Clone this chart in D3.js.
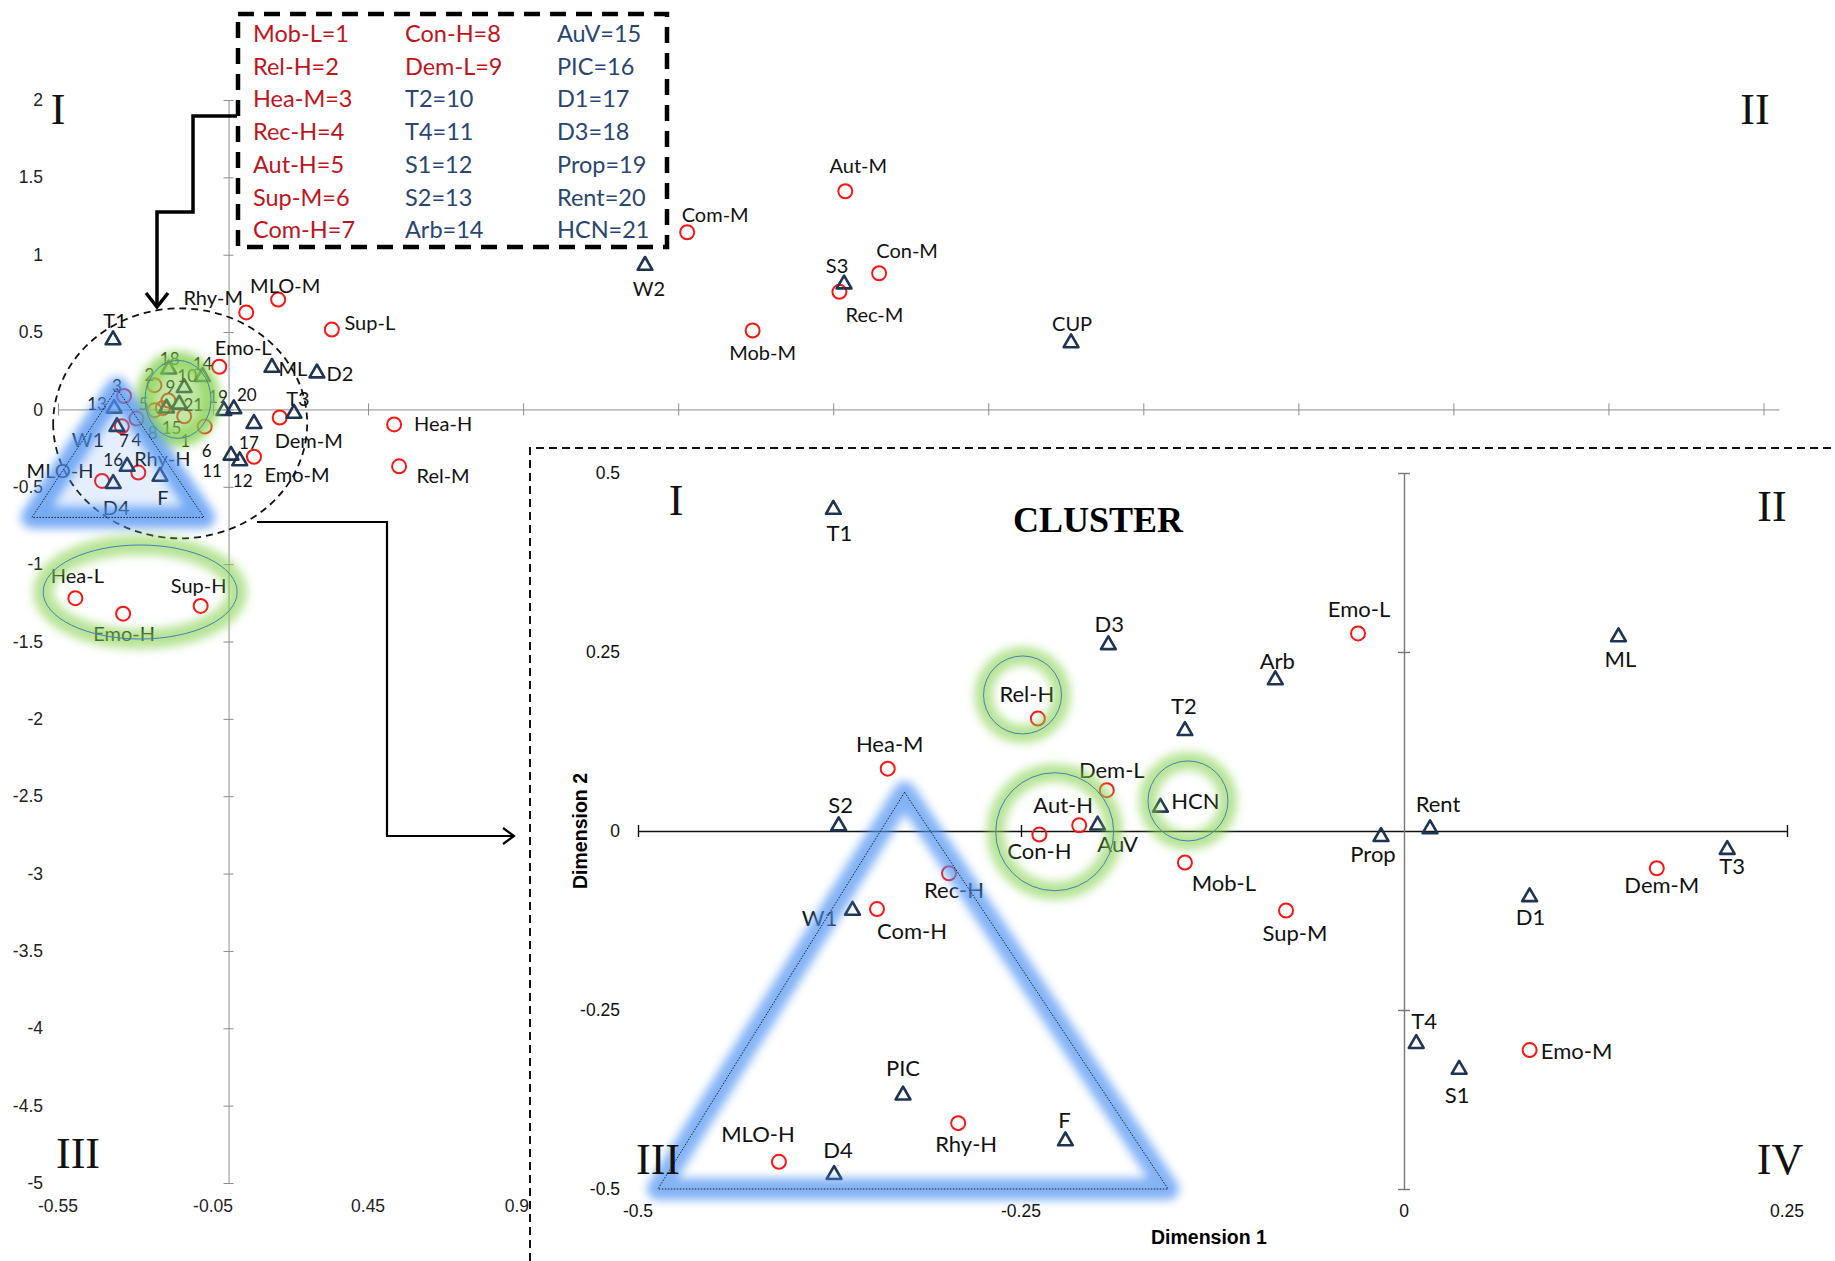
<!DOCTYPE html>
<html>
<head>
<meta charset="utf-8">
<script src="https://cdn.jsdelivr.net/npm/d3@7"></script>
<style>
  body { margin: 0; background: #fff; }
  svg { display: block; }
</style>
</head>
<body>
<svg id="canvas"></svg>
<script>
// ---------------- data ----------------
// circles (red) : dimension 1 / dimension 2
let circleNames = ['Mob-L','Rel-H','Hea-M','Rec-H','Aut-H','Sup-M','Com-H','Con-H','Dem-L','Emo-L','Emo-M','Dem-M',
                   'Rhy-H','MLO-H','Hea-L','Emo-H','Sup-H','Rhy-M','MLO-M','Sup-L','Hea-H','Rel-M','Com-M','Aut-M','Con-M','Rec-M','Mob-M']
let circleX = [-0.143,-0.239,-0.337,-0.297,-0.212,-0.077,-0.344,-0.238,-0.194,-0.030,0.082,0.165,
               -0.291,-0.408,-0.494,-0.340,-0.090,0.057,0.160,0.333,0.534,0.550,1.479,1.989,2.098,1.970,1.690]
let circleY = [-0.044,0.157,0.087,-0.059,0.008,-0.111,-0.109,-0.005,0.057,0.276,-0.306,-0.052,
               -0.408,-0.462,-1.220,-1.320,-1.270,0.627,0.710,0.516,-0.097,-0.368,1.145,1.410,0.880,0.760,0.510]

// triangles (navy)
let triNames = ['T1','T2','T3','T4','S1','S2','S3','W1','W2','D1','D2','D3','D4','F','PIC','AuV','Arb','Prop','Rent','HCN','ML','CUP']
let triX = [-0.3725,-0.143,0.211,0.008,0.036,-0.369,1.985,-0.360,1.343,0.082,0.285,-0.193,-0.372,-0.221,-0.327,-0.200,-0.084,-0.015,0.017,-0.159,0.140,2.717]
let triY = [0.449,0.140,-0.026,-0.297,-0.333,0.007,0.810,-0.111,0.930,-0.092,0.235,0.260,-0.480,-0.433,-0.369,0.008,0.211,-0.008,0.003,0.033,0.271,0.430]

// legend codes: position in list + 1 = number used in the big chart
let legendCodes = ['Mob-L','Rel-H','Hea-M','Rec-H','Aut-H','Sup-M','Com-H','Con-H','Dem-L','T2','T4','S1','S2','Arb',
                   'AuV','PIC','D1','D3','Prop','Rent','HCN']

// tick labels
let mainYTicks = [2,1.5,1,0.5,0,-0.5,-1,-1.5,-2,-2.5,-3,-3.5,-4,-4.5,-5]
let mainXTicks = [-0.55,-0.05,0.45,0.95,1.45,1.95,2.45,2.95,3.45,3.95,4.45,4.95]
let mainXLabelVals = [-0.55,-0.05,0.45,0.93]
let mainXLabels = ['-0.55','-0.05','0.45','0.9']
let insetXTicks = [-0.5,-0.25,0,0.25]
let insetYTicks = [0.5,0.25,0,-0.25,-0.5]

// ---------------- label placement (px offsets) ----------------
let mainOff = {
  'Aut-M':[13,-26],'Com-M':[28,-18],'Con-M':[28,-23],'S3':[-7,-19],'Rec-M':[35,22],'Mob-M':[10,21],'W2':[4,22],'CUP':[1,-20],
  'MLO-M':[7,-15],'Rhy-M':[-33,-15],'Sup-L':[38,-8],'Emo-L':[24,-20],'ML':[21,0],'D2':[23,0],'T3':[4,-15],'Dem-M':[29,23],
  'Hea-H':[49,-1],'Rel-M':[44,9],'Emo-M':[43,17],'D1':[-5,19],'T4':[-19,15],'S1':[3,20],'Prop':[-6,-14],'Rent':[13,-14],
  'Sup-M':[2,24],'Hea-L':[2,-23],'Emo-H':[1,19],'Sup-H':[-2,-21],'T1':[2,-20],'Hea-M':[-7,-10],'S2':[-17,-5],'W1':[-29,12],
  'Com-H':[2,14],'Rec-H':[0,21],'Rhy-H':[24,-15],'PIC':[-14,-7],'MLO-H':[-42,-11],'D4':[3,23],'F':[3,21],'Rel-H':[-5,-11],
  'Aut-H':[-19,-5],'Con-H':[-2,22],'AuV':[5,19],'D3':[1,-11],'T2':[3,-12],'Arb':[0,-13],'Dem-L':[2,-14],'HCN':[14,0],'Mob-L':[1,24]
}
let insetOff = {
  'T1':[6,23],'D3':[1,-21],'Emo-L':[1,-25],'ML':[2,22],'Arb':[2,-19],'Rel-H':[-11,-25],'T2':[-1,-25],'Hea-M':[2,-25],
  'Dem-L':[5,-21],'HCN':[35,-7],'Aut-H':[-16,-21],'AuV':[20,18],'Con-H':[0,16],'S2':[2,-21],'Prop':[-8,17],'Rent':[8,-25],
  'Mob-L':[39,20],'Rec-H':[5,16],'T3':[5,16],'Dem-M':[5,16],'D1':[1,20],'W1':[-33,7],'Com-H':[35,21],'Sup-M':[9,22],
  'T4':[8,-23],'Emo-M':[47,0],'S1':[-2,25],'PIC':[0,-28],'Rhy-H':[8,20],'F':[-1,-22],'MLO-H':[-21,-28],'D4':[4,-25]
}

// ---------------- setup ----------------
let width = 1835
let height = 1261
let labelFont = 'Lato, "Noto Sans", sans-serif'
let axisFont = '"Liberation Sans", Arial, sans-serif'
let serifFont = '"Liberation Serif", "DejaVu Serif", serif'
let red = '#ff1414'
let navy = '#1f3352'

let canvas = d3.select('#canvas').attr('width', width).attr('height', height)
canvas.append('rect').attr('width', width).attr('height', height).attr('fill', '#fff')

let defs = canvas.append('defs')
defs.append('filter').attr('id', 'blur').attr('x', '-50%').attr('y', '-50%').attr('width', '200%').attr('height', '200%')
    .append('feGaussianBlur').attr('stdDeviation', 5)

let points = []
circleNames.forEach((n, i) => points.push({name: n, x: circleX[i], y: circleY[i], kind: 'c'}))
triNames.forEach((n, i) => points.push({name: n, x: triX[i], y: triY[i], kind: 't'}))

let xMain = d3.scaleLinear().domain([-0.55, 5.0]).range([58, 1779])
let yMain = d3.scaleLinear().domain([-5, 2]).range([1183, 100])
let xIn = d3.scaleLinear().domain([-0.5, 0.25]).range([638, 1787])
let yIn = d3.scaleLinear().domain([-0.5, 0.5]).range([1189, 473])

let triPath = d3.symbol(d3.symbolTriangle, 95)

let drawMarks = (g, data, xs, ys) => {
  g.selectAll('circle.pt').data(data.filter(d => d.kind == 'c')).enter()
    .append('circle').attr('class', 'pt')
    .attr('cx', d => xs(d.x)).attr('cy', d => ys(d.y)).attr('r', 7)
    .attr('fill', 'none').attr('stroke', red).attr('stroke-width', 2)
  g.selectAll('path.pt').data(data.filter(d => d.kind == 't')).enter()
    .append('path').attr('class', 'pt').attr('d', triPath)
    .attr('transform', d => 'translate(' + xs(d.x) + ',' + ys(d.y) + ')')
    .attr('fill', 'none').attr('stroke', navy).attr('stroke-width', 2.6).attr('stroke-linejoin', 'round')
}

let drawLabels = (g, data, xs, ys, off, textOf, size) => {
  g.selectAll('text.pl').data(data).enter()
    .append('text').attr('class', 'pl')
    .attr('x', d => xs(d.x) + (off[d.name] || [0, -18])[0])
    .attr('y', d => ys(d.y) + (off[d.name] || [0, -18])[1])
    .attr('text-anchor', 'middle').attr('dominant-baseline', 'central')
    .attr('font-family', labelFont).attr('font-size', d => size(d)).attr('fill', '#111')
    .text(textOf)
}

let glowPath = (g, pathD, color, opts) => {
  if (opts.fill) {
    g.append('path').attr('d', pathD).attr('fill', color).attr('opacity', opts.fill).attr('filter', 'url(#blur)')
  }
  g.append('path').attr('d', pathD).attr('fill', 'none').attr('stroke', color)
    .attr('stroke-width', opts.w).attr('stroke-linejoin', 'round').attr('opacity', opts.op).attr('filter', 'url(#blur)')
  g.append('path').attr('d', pathD).attr('fill', 'none').attr('stroke', opts.line)
    .attr('stroke-width', 1).attr('stroke-dasharray', opts.dash || null)
}

let ellipsePath = (cx, cy, rx, ry) =>
  'M' + (cx - rx) + ',' + cy + ' a' + rx + ',' + ry + ' 0 1,0 ' + (2 * rx) + ',0 a' + rx + ',' + ry + ' 0 1,0 ' + (-2 * rx) + ',0Z'

// ---------------- main chart axes ----------------
let yAxisMain = d3.axisLeft(yMain).tickValues(mainYTicks).tickSize(5).tickSizeOuter(0).tickFormat('')
canvas.append('g').attr('transform', 'translate(' + xMain(0) + ',0)').call(yAxisMain)
  .call(g => g.selectAll('.tick line').attr('x2', -5).attr('x1', 5))
  .call(g => g.selectAll('line, path').attr('stroke', '#8c8c8c'))

let xAxisMain = d3.axisBottom(xMain).tickValues(mainXTicks).tickSize(5).tickSizeOuter(0).tickFormat('')
canvas.append('g').attr('transform', 'translate(0,' + yMain(0) + ')').call(xAxisMain)
  .call(g => g.selectAll('.tick line').attr('y1', -6).attr('y2', 6))
  .call(g => g.selectAll('line, path').attr('stroke', '#8c8c8c'))

let yLabMain = d3.axisLeft(yMain).tickValues(mainYTicks).tickSize(0).tickPadding(0).tickFormat(d => String(d))
canvas.append('g').attr('transform', 'translate(43,0)').call(yLabMain)
  .call(g => g.select('.domain').remove())
  .selectAll('text').attr('font-family', axisFont).attr('font-size', 17.5).attr('fill', '#222')

canvas.append('g').selectAll('text').data(mainXLabelVals).enter().append('text')
  .attr('x', d => xMain(d)).attr('y', 1206).attr('text-anchor', 'middle').attr('dominant-baseline', 'central')
  .attr('font-family', axisFont).attr('font-size', 17.5).attr('fill', '#222')
  .text((d, i) => mainXLabels[i])

// ---------------- legend box ----------------
let legend = canvas.append('g')
legend.append('rect').attr('x', 238).attr('y', 14).attr('width', 429).attr('height', 233)
  .attr('fill', 'none').attr('stroke', '#000').attr('stroke-width', 4.5).attr('stroke-dasharray', '16,10')
legend.selectAll('text').data(legendCodes).enter().append('text')
  .attr('x', (d, i) => 253 + Math.floor(i / 7) * 152)
  .attr('y', (d, i) => 33 + (i % 7) * 32.7)
  .attr('dominant-baseline', 'central')
  .attr('font-family', labelFont).attr('font-size', 23.5)
  .attr('fill', (d, i) => i < 9 ? '#c0141c' : '#2a4571')
  .text((d, i) => d + '=' + (i + 1))

// arrows
let arrows = canvas.append('g').attr('fill', 'none').attr('stroke', '#000').attr('stroke-linejoin', 'miter')
arrows.append('path').attr('d', 'M237,116 H193 V212 H157 V306').attr('stroke-width', 3.5)
arrows.append('path').attr('d', 'M146,293 L157,307 L168,293').attr('stroke-width', 3.5)
arrows.append('path').attr('d', 'M257,522 H387 V836 H513').attr('stroke-width', 2.2)
arrows.append('path').attr('d', 'M503,828 L514,836 L503,844').attr('stroke-width', 2.2)

// dashed circle around the cluster
canvas.append('path').attr('d', ellipsePath(xMain(-0.156), yMain(-0.09), 127, 115))
  .attr('fill', 'none').attr('stroke', '#111').attr('stroke-width', 1.8).attr('stroke-dasharray', '7,5')

// ---------------- main chart points ----------------
let mainG = canvas.append('g')
drawMarks(mainG, points, xMain, yMain)
drawLabels(mainG, points, xMain, yMain, mainOff,
  d => legendCodes.indexOf(d.name) >= 0 ? String(legendCodes.indexOf(d.name) + 1) : d.name,
  d => legendCodes.indexOf(d.name) >= 0 ? 17 : 20)

// glow overlays on the big chart
let mainGlow = canvas.append('g')
glowPath(mainGlow, ellipsePath(xMain(-0.163), yMain(0.065), 33, 39), '#86d150', {w: 18, op: 0.75, fill: 0.5, line: '#4a7ebb'})
let mt = [[-0.36, 0.136], [-0.634, -0.698], [-0.079, -0.698]]
glowPath(mainGlow, 'M' + mt.map(p => xMain(p[0]) + ',' + yMain(p[1])).join('L') + 'Z', '#4f93f2', {w: 22, op: 0.75, fill: 0.15, line: '#222', dash: '1.5,1.5'})
glowPath(mainGlow, ellipsePath(xMain(-0.285), yMain(-1.18), 97, 47), '#86d150', {w: 20, op: 0.6, line: '#4a7ebb'})

// ---------------- inset ----------------
let inset = canvas.append('g')
inset.append('rect').attr('x', 530).attr('y', 448).attr('width', width - 530).attr('height', height - 448).attr('fill', '#fff')
inset.append('path').attr('d', 'M530,1261 V448 H1835').attr('fill', 'none').attr('stroke', '#111')
  .attr('stroke-width', 2).attr('stroke-dasharray', '8,5')

let xAxisIn = d3.axisBottom(xIn).tickValues([-0.5, -0.25, 0.25]).tickSize(6).tickSizeOuter(0).tickFormat('')
inset.append('g').attr('transform', 'translate(0,' + yIn(0) + ')').call(xAxisIn)
  .call(g => g.selectAll('.tick line').attr('y1', -6).attr('y2', 6))
  .call(g => g.selectAll('line, path').attr('stroke', '#111').attr('stroke-width', 1.4))

let yAxisIn = d3.axisLeft(yIn).tickValues([0.5, 0.25, -0.25, -0.5]).tickSize(6).tickSizeOuter(0).tickFormat('')
inset.append('g').attr('transform', 'translate(' + xIn(0) + ',0)').call(yAxisIn)
  .call(g => g.selectAll('.tick line').attr('x1', 6).attr('x2', -6))
  .call(g => g.selectAll('line, path').attr('stroke', '#777').attr('stroke-width', 1.4))

inset.append('g').selectAll('text').data(insetYTicks).enter().append('text')
  .attr('x', 620).attr('y', d => yIn(d)).attr('text-anchor', 'end').attr('dominant-baseline', 'central')
  .attr('font-family', axisFont).attr('font-size', 17.5).attr('fill', '#111').text(d => String(d))
inset.append('g').selectAll('text').data(insetXTicks).enter().append('text')
  .attr('x', d => xIn(d)).attr('y', 1211).attr('text-anchor', 'middle').attr('dominant-baseline', 'central')
  .attr('font-family', axisFont).attr('font-size', 17.5).attr('fill', '#111').text(d => String(d))

inset.append('text').attr('x', 1209).attr('y', 1237).attr('text-anchor', 'middle').attr('dominant-baseline', 'central')
  .attr('font-family', axisFont).attr('font-weight', 'bold').attr('font-size', 19.5).text('Dimension 1')
inset.append('text').attr('transform', 'translate(580,' + yIn(0) + ') rotate(-90)')
  .attr('text-anchor', 'middle').attr('dominant-baseline', 'central')
  .attr('font-family', axisFont).attr('font-weight', 'bold').attr('font-size', 19.5).text('Dimension 2')

inset.append('text').attr('x', 1098).attr('y', 520).attr('text-anchor', 'middle').attr('dominant-baseline', 'central')
  .attr('font-family', serifFont).attr('font-weight', 'bold').attr('font-size', 36).text('CLUSTER')

let inPts = points.filter(d => d.x >= -0.5 && d.x <= 0.25 && d.y >= -0.5 && d.y <= 0.5)
drawMarks(inset, inPts, xIn, yIn)
drawLabels(inset, inPts, xIn, yIn, insetOff, d => d.name, d => 22)

// inset glows
let it = [[-0.326, 0.054], [-0.487, -0.5], [-0.154, -0.5]]
glowPath(inset, 'M' + it.map(p => xIn(p[0]) + ',' + yIn(p[1])).join('L') + 'Z', '#4f93f2', {w: 22, op: 0.7, line: '#222', dash: '1.5,1.5'})
glowPath(inset, ellipsePath(xIn(-0.249), yIn(0.19), 39, 39), '#86d150', {w: 18, op: 0.6, line: '#4a7ebb'})
glowPath(inset, ellipsePath(xIn(-0.228), yIn(-0.001), 59, 59), '#86d150', {w: 18, op: 0.6, line: '#4a7ebb'})
glowPath(inset, ellipsePath(xIn(-0.141), yIn(0.042), 40, 40), '#86d150', {w: 18, op: 0.6, line: '#4a7ebb'})

// ---------------- quadrant numerals ----------------
let numerals = [['I', 58, 109], ['II', 1755, 109], ['III', 78, 1153],
                ['I', 676, 500], ['II', 1772, 506], ['III', 658, 1159], ['IV', 1780, 1159]]
canvas.append('g').selectAll('text').data(numerals).enter().append('text')
  .attr('x', d => d[1]).attr('y', d => d[2]).attr('text-anchor', 'middle').attr('dominant-baseline', 'central')
  .attr('font-family', serifFont).attr('font-size', 44).attr('fill', '#111').text(d => d[0])
</script>
</body>
</html>
